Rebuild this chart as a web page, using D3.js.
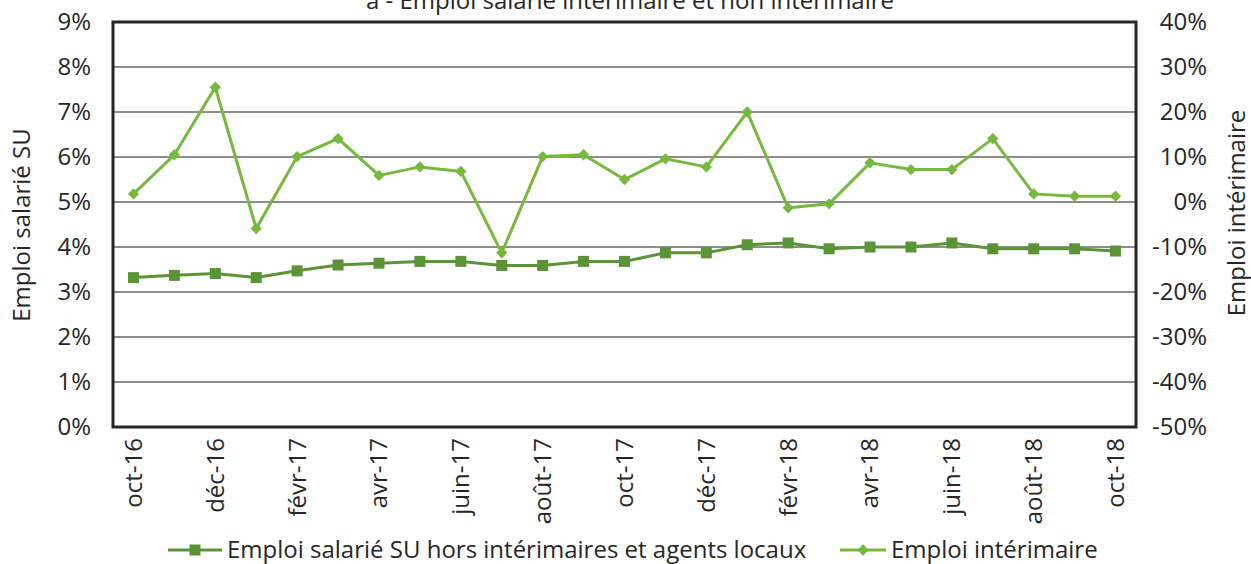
<!DOCTYPE html>
<html>
<head>
<meta charset="utf-8">
<script src="https://cdn.jsdelivr.net/npm/d3@7"></script>
<style>
  body { margin: 0; background: #fff; }
  svg { font-family: "Open Sans", sans-serif; }
</style>
</head>
<body>
<svg></svg>
<script>
let months = ['oct-16','nov-16','déc-16','janv-17','févr-17','mars-17','avr-17','mai-17','juin-17','juil-17','août-17','sept-17',
              'oct-17','nov-17','déc-17','janv-18','févr-18','mars-18','avr-18','mai-18','juin-18','juil-18','août-18','sept-18','oct-18']

// emploi salarié SU hors intérimaires (axe gauche, %)
let salarie = [3.32,3.37,3.41,3.32,3.47,3.60,3.64,3.68,3.68,3.59,3.59,3.68,3.68,
               3.87,3.87,4.05,4.09,3.96,4.00,4.00,4.09,3.96,3.96,3.96,3.91]

// emploi intérimaire (axe droit, %)
let interim = [1.8,10.5,25.5,-5.9,10.1,14.1,5.9,7.8,6.8,-11.3,10.1,10.5,5.0,
               9.6,7.8,20.0,-1.3,-0.4,8.7,7.2,7.2,14.1,1.8,1.3,1.3]

let leftTicks = [0,1,2,3,4,5,6,7,8,9]
let rightTicks = [-50,-40,-30,-20,-10,0,10,20,30,40]

let title = 'a - Emploi salarié intérimaire et non intérimaire'
let names = ['Emploi salarié SU hors intérimaires et agents locaux', 'Emploi intérimaire']

let w = 1251
let h = 564
let pl = 113, pr = 1136, pt = 22, pb = 427
let fs = 24

let dark = '#5b9337'
let light = '#77b83f'
let txt = '#262626'

let svg = d3.select('svg').attr('width', w).attr('height', h)

let xScale = d3.scaleBand().domain(months).range([pl, pr])
let yLeft = d3.scaleLinear().domain([0, 9]).range([pb, pt])
let yRight = d3.scaleLinear().domain([-50, 40]).range([pb, pt])
let cx = (d) => xScale(d) + xScale.bandwidth() / 2

// gridlines
svg.append('g')
   .selectAll('line')
   .data(leftTicks)
   .enter()
   .append('line')
   .attr('x1', pl).attr('x2', pr)
   .attr('y1', (d) => yLeft(d)).attr('y2', (d) => yLeft(d))
   .attr('stroke', '#1a1a1a')
   .attr('stroke-width', 1)

// left axis
let leftAxis = d3.axisLeft(yLeft).tickValues(leftTicks).tickSize(0).tickPadding(22)
                 .tickFormat((d) => d + '%')
svg.append('g')
   .attr('transform', 'translate(' + pl + ',0)')
   .call(leftAxis)
   .call(g => g.select('.domain').remove())
   .selectAll('text')
   .attr('font-size', fs).attr('fill', txt).attr('font-family', '"Open Sans", sans-serif')

// right axis (labels right aligned)
let rightAxis = d3.axisRight(yRight).tickValues(rightTicks).tickSize(0).tickPadding(71)
                  .tickFormat((d) => d + '%')
svg.append('g')
   .attr('transform', 'translate(' + pr + ',0)')
   .call(rightAxis)
   .call(g => g.select('.domain').remove())
   .selectAll('text')
   .attr('text-anchor', 'end')
   .attr('font-size', fs).attr('fill', txt).attr('font-family', '"Open Sans", sans-serif')

// x axis, one label out of two
let xAxis = d3.axisBottom(xScale).tickSize(0).tickPadding(0)
              .tickValues(months.filter((d, i) => i % 2 == 0))
svg.append('g')
   .attr('transform', 'translate(0,' + pb + ')')
   .call(xAxis)
   .call(g => g.select('.domain').remove())
   .selectAll('text')
   .attr('font-size', fs).attr('fill', txt).attr('font-family', '"Open Sans", sans-serif')
   .attr('text-anchor', 'end')
   .attr('dy', '0.35em')
   .attr('transform', 'translate(0,11) rotate(-90)')
   .attr('x', 0).attr('y', 0)

// plot border
svg.append('rect')
   .attr('x', pl).attr('y', pt)
   .attr('width', pr - pl).attr('height', pb - pt)
   .attr('fill', 'none')
   .attr('stroke', txt)
   .attr('stroke-width', 3)

// series lines
let lineL = d3.line().x((d, i) => cx(months[i])).y((d) => yLeft(d))
let lineR = d3.line().x((d, i) => cx(months[i])).y((d) => yRight(d))

svg.append('path').datum(salarie)
   .attr('d', lineL).attr('fill', 'none').attr('stroke', dark).attr('stroke-width', 3)

svg.append('g').selectAll('rect')
   .data(salarie).enter().append('rect')
   .attr('x', (d, i) => cx(months[i]) - 5.5)
   .attr('y', (d) => yLeft(d) - 5.5)
   .attr('width', 11).attr('height', 11)
   .attr('fill', dark)

svg.append('path').datum(interim)
   .attr('d', lineR).attr('fill', 'none').attr('stroke', light).attr('stroke-width', 3)

let diamond = d3.symbol().type(d3.symbolSquare).size(64)
svg.append('g').selectAll('path')
   .data(interim).enter().append('path')
   .attr('d', diamond)
   .attr('transform', (d, i) => 'translate(' + cx(months[i]) + ',' + yRight(d) + ') rotate(45)')
   .attr('fill', light)

// title (top cut off as in the source)
svg.append('text')
   .attr('x', 630).attr('y', 9)
   .attr('text-anchor', 'middle')
   .attr('font-size', fs).attr('fill', txt)
   .text(title)

// axis titles
svg.append('text')
   .attr('transform', 'translate(30,225) rotate(-90)')
   .attr('text-anchor', 'middle')
   .attr('font-size', fs).attr('fill', txt)
   .text('Emploi salarié SU')

svg.append('text')
   .attr('transform', 'translate(1245,213) rotate(-90)')
   .attr('text-anchor', 'middle')
   .attr('font-size', fs).attr('fill', txt)
   .text('Emploi intérimaire')

// legend
let legend = svg.append('g')
legend.append('line').attr('x1', 168).attr('x2', 222).attr('y1', 550).attr('y2', 550)
      .attr('stroke', dark).attr('stroke-width', 3)
legend.append('rect').attr('x', 189.5).attr('y', 544.5).attr('width', 11).attr('height', 11).attr('fill', dark)
legend.append('text').attr('x', 227).attr('y', 558).attr('font-size', fs).attr('fill', txt).text(names[0])

legend.append('line').attr('x1', 840).attr('x2', 886).attr('y1', 550).attr('y2', 550)
      .attr('stroke', light).attr('stroke-width', 3)
legend.append('path').attr('d', diamond).attr('transform', 'translate(863,550) rotate(45)').attr('fill', light)
legend.append('text').attr('x', 891).attr('y', 558).attr('font-size', fs).attr('fill', txt).text(names[1])
</script>
</body>
</html>
